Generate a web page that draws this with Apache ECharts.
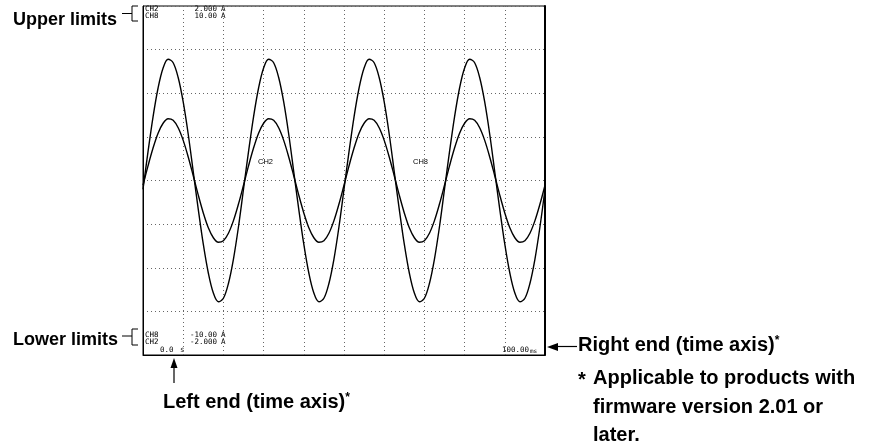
<!DOCTYPE html>
<html>
<head>
<meta charset="utf-8">
<script src="https://cdn.jsdelivr.net/npm/echarts@6/dist/echarts.min.js"></script>
<style>
  html, body { margin: 0; padding: 0; background: #fff; }
  #chart { width: 882px; height: 441px; }
</style>
</head>
<body>
<div id="chart"></div>
<script>
// time samples, ms (1.25 ms apart)
const times = [
  0, 1.25, 2.5, 3.75, 5, 6.25, 7.5, 8.75, 10, 11.25, 12.5, 13.75, 15, 16.25, 17.5, 18.75, 20, 21.25, 22.5, 23.75,
  25, 26.25, 27.5, 28.75, 30, 31.25, 32.5, 33.75, 35, 36.25, 37.5, 38.75, 40, 41.25, 42.5, 43.75, 45, 46.25, 47.5, 48.75,
  50, 51.25, 52.5, 53.75, 55, 56.25, 57.5, 58.75, 60, 61.25, 62.5, 63.75, 65, 66.25, 67.5, 68.75, 70, 71.25, 72.5, 73.75,
  75, 76.25, 77.5, 78.75, 80, 81.25, 82.5, 83.75, 85, 86.25, 87.5, 88.75, 90, 91.25, 92.5, 93.75, 95, 96.25, 97.5, 98.75,
  100
];

// CH2 current, A (range -2 .. 2)
const ch2 = [
  -0.10, 0.33, 0.73, 1.06, 1.29, 1.39, 1.35, 1.18, 0.90, 0.53, 0.10, -0.33, -0.73, -1.06, -1.29, -1.39, -1.35, -1.18, -0.90, -0.53,
  -0.10, 0.33, 0.73, 1.06, 1.29, 1.39, 1.35, 1.18, 0.90, 0.53, 0.10, -0.33, -0.73, -1.06, -1.29, -1.39, -1.35, -1.18, -0.90, -0.53,
  -0.10, 0.33, 0.73, 1.06, 1.29, 1.39, 1.35, 1.18, 0.90, 0.53, 0.10, -0.33, -0.73, -1.06, -1.29, -1.39, -1.35, -1.18, -0.90, -0.53,
  -0.10, 0.33, 0.73, 1.06, 1.29, 1.39, 1.35, 1.18, 0.90, 0.53, 0.10, -0.33, -0.73, -1.06, -1.29, -1.39, -1.35, -1.18, -0.90, -0.53,
  -0.10
];

// CH8 current, A (range -10 .. 10)
const ch8 = [
  -0.27, 0.84, 1.86, 2.71, 3.28, 3.54, 3.45, 3.02, 2.30, 1.35, 0.27, -0.84, -1.86, -2.71, -3.28, -3.54, -3.45, -3.02, -2.30, -1.35,
  -0.27, 0.84, 1.86, 2.71, 3.28, 3.54, 3.45, 3.02, 2.30, 1.35, 0.27, -0.84, -1.86, -2.71, -3.28, -3.54, -3.45, -3.02, -2.30, -1.35,
  -0.27, 0.84, 1.86, 2.71, 3.28, 3.54, 3.45, 3.02, 2.30, 1.35, 0.27, -0.84, -1.86, -2.71, -3.28, -3.54, -3.45, -3.02, -2.30, -1.35,
  -0.27, 0.84, 1.86, 2.71, 3.28, 3.54, 3.45, 3.02, 2.30, 1.35, 0.27, -0.84, -1.86, -2.71, -3.28, -3.54, -3.45, -3.02, -2.30, -1.35,
  -0.27
];

// scale readouts shown on screen
const upperLimits = [['CH2', '2.000'], ['CH8', '10.00']];
const lowerLimits = [['CH8', '-10.00'], ['CH2', '-2.000']];
const timeLeft = '0.0';
const timeRight = '100.00';

const chart = echarts.init(document.getElementById('chart'));

const mono = '"DejaVu Sans Mono", "Liberation Mono", monospace';
const sans = '"Liberation Sans", Arial, Helvetica, sans-serif';
const dotted = { color: '#666', width: 1, type: [1, 3] };

function screenText(text, x, y, align, size) {
  return {
    type: 'text',
    silent: true,
    style: {
      text: text, x: x, y: y,
      font: (size || 7.5) + 'px ' + mono,
      fill: '#000',
      textAlign: align || 'left',
      textVerticalAlign: 'middle'
    }
  };
}

function noteText(text, x, y, size) {
  return {
    type: 'text',
    silent: true,
    style: {
      text: text, x: x, y: y,
      font: 'bold ' + size + 'px ' + sans,
      fill: '#000',
      textAlign: 'left',
      textVerticalAlign: 'middle'
    }
  };
}

function line(points, width) {
  return {
    type: 'polyline',
    silent: true,
    shape: { points: points },
    style: { stroke: '#000', lineWidth: width || 1, fill: null }
  };
}

function head(points) {
  return { type: 'polygon', silent: true, shape: { points: points }, style: { fill: '#000' } };
}

const graphics = [];

// readouts inside the screen
upperLimits.forEach((r, i) => {
  graphics.push(screenText(r[0], 145, 9.5 + i * 6.5));
  graphics.push(screenText(r[1], 217, 9.5 + i * 6.5, 'right'));
  graphics.push(screenText('A', 221, 9.5 + i * 6.5));
});
lowerLimits.forEach((r, i) => {
  graphics.push(screenText(r[0], 145, 335 + i * 7));
  graphics.push(screenText(r[1], 217, 335 + i * 7, 'right'));
  graphics.push(screenText('A', 221, 335 + i * 7));
});
graphics.push(screenText(timeLeft, 160, 350.5));
graphics.push(screenText('s', 180, 350.5));
graphics.push(screenText(timeRight, 529, 350.5, 'right'));
graphics.push(screenText('ms', 530, 351, 'left', 6));

// channel markers
graphics.push({ type: 'text', silent: true, style: { text: 'CH2', x: 258, y: 162, font: '7.5px ' + sans, fill: '#000', textVerticalAlign: 'middle' } });
graphics.push({ type: 'text', silent: true, style: { text: 'CH8', x: 413, y: 162, font: '7.5px ' + sans, fill: '#000', textVerticalAlign: 'middle' } });

// callouts
graphics.push(noteText('Upper limits', 13, 20, 18));
graphics.push(line([[122, 13.5], [132, 13.5]]));
graphics.push(line([[138, 6], [132, 6], [132, 21], [138, 21]]));

graphics.push(noteText('Lower limits', 13, 340, 18));
graphics.push(line([[122, 336], [132, 336]]));
graphics.push(line([[138, 329], [132, 329], [132, 345], [138, 345]]));

graphics.push(line([[174, 366], [174, 383]], 1.2));
graphics.push(head([[174, 358], [170.5, 368], [177.5, 368]]));
graphics.push({
  type: 'text', silent: true,
  style: {
    text: '{a|Left end (time axis)}{s|*}', x: 163, y: 402,
    textVerticalAlign: 'middle',
    rich: {
      a: { font: 'bold 20px ' + sans, fill: '#000' },
      s: { font: 'bold 12px ' + sans, fill: '#000', verticalAlign: 'top' }
    }
  }
});

graphics.push(line([[556, 346.5], [577, 346.5]], 1.2));
graphics.push(head([[547, 347], [558, 343], [558, 351]]));
graphics.push({
  type: 'text', silent: true,
  style: {
    text: '{a|Right end (time axis)}{s|*}', x: 578, y: 345,
    textVerticalAlign: 'middle',
    rich: {
      a: { font: 'bold 20px ' + sans, fill: '#000' },
      s: { font: 'bold 12px ' + sans, fill: '#000', verticalAlign: 'top' }
    }
  }
});
graphics.push(noteText('*', 578, 380, 20));
graphics.push(noteText('Applicable to products with', 593, 378, 20));
graphics.push(noteText('firmware version 2.01 or', 593, 407, 20));
graphics.push(noteText('later.', 593, 435, 20));

const option = {
  animation: false,
  backgroundColor: '#fff',
  grid: {
    left: 143, top: 6, right: 337, bottom: 86,
    show: true, borderColor: '#000', borderWidth: 1
  },
  xAxis: {
    type: 'value', min: 0, max: 100, interval: 10,
    axisLine: { show: true, onZero: false, lineStyle: { color: '#000', width: 1 } },
    axisTick: { show: false },
    axisLabel: { show: false },
    splitLine: { show: true, lineStyle: dotted }
  },
  yAxis: [
    {
      type: 'value', min: -2, max: 2, interval: 0.5,
      axisLine: { show: true, onZero: false, lineStyle: { color: '#000', width: 1 } },
      axisTick: { show: false },
      axisLabel: { show: false },
      splitLine: { show: true, lineStyle: dotted }
    },
    {
      type: 'value', min: -10, max: 10, interval: 2.5, position: 'right',
      axisLine: { show: true, onZero: false, lineStyle: { color: '#000', width: 2 } },
      axisTick: { show: false },
      axisLabel: { show: false },
      splitLine: { show: false }
    }
  ],
  series: [
    {
      name: 'CH2', type: 'line', yAxisIndex: 0,
      data: times.map((t, i) => [t, ch2[i]]),
      showSymbol: false, smooth: 0.35, silent: true,
      lineStyle: { color: '#000', width: 1.4 }
    },
    {
      name: 'CH8', type: 'line', yAxisIndex: 1,
      data: times.map((t, i) => [t, ch8[i]]),
      showSymbol: false, smooth: 0.35, silent: true,
      lineStyle: { color: '#000', width: 1.4 }
    }
  ],
  graphic: graphics
};

chart.setOption(option);
</script>
</body>
</html>
